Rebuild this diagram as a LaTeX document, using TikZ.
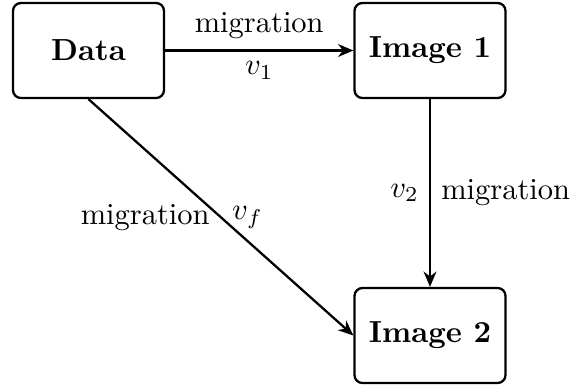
\documentclass[tikz,border=0pt]{standalone}
\usetikzlibrary{arrows.meta}
\begin{document}
\begin{tikzpicture}[x=0.328pt, y=-0.328pt,
  box/.style={draw, line width=0.75pt, rounded corners=2.6pt,
    minimum width=151*0.328pt, minimum height=95*0.328pt, font=\bfseries},
  flow/.style={line width=0.75pt, -{Stealth[length=5pt, width=4.2pt, inset=1.6pt]}}]
  \useasboundingbox (0,0) rectangle (573,385);
  \node[box] (data) at (88.5,50.5) {Data};
  \node[box] (img1) at (430,50.5) {Image 1};
  \node[box] (img2) at (430,335.5) {Image 2};
  \draw[flow] (data) -- node[above] {migration} node[below] {$v_1$} (img1);
  \draw[flow] (img1) -- node[left] {$v_2$} node[right] {migration} (img2);
  \draw[flow] (data.south) -- node[left] {migration} node[right] {$v_f$} (img2.west);
\end{tikzpicture}
\end{document}
